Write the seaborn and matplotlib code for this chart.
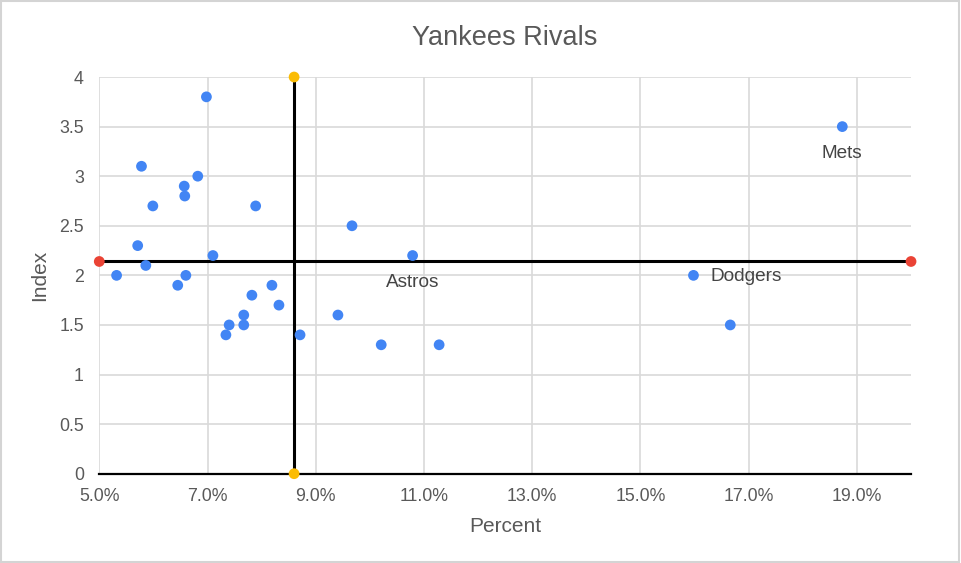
import matplotlib
matplotlib.use('Agg')
import matplotlib.pyplot as plt
import matplotlib.ticker as mticker
import seaborn as sns
import pandas as pd

# 데이터
teams = ['', '', '', '', '', '', '', '', '', '', '', '', '', '', '', '', '', '', '', '', '',
         '', 'Astros', '', '', '', 'Mets', 'Dodgers', '']
percent = [6.98, 5.78, 6.82, 6.57, 6.58, 5.99, 7.89, 5.71, 7.10, 5.86, 5.32, 6.60, 6.45, 8.19,
           7.82, 8.32, 7.67, 7.40, 7.67, 7.34, 8.71, 9.67, 10.79, 9.41, 10.21, 11.28,
           18.73, 15.98, 16.66]
index = [3.8, 3.1, 3.0, 2.9, 2.8, 2.7, 2.7, 2.3, 2.2, 2.1, 2.0, 2.0, 1.9, 1.9, 1.8, 1.7,
         1.6, 1.5, 1.5, 1.4, 1.4, 2.5, 2.2, 1.6, 1.3, 1.3, 3.5, 2.0, 1.5]

# 기준선 (평균선)
h_x = [5.0, 20.0]
h_y = [2.14, 2.14]
v_x = [8.6, 8.6]
v_y = [0, 4]

x_ticks = [5, 7, 9, 11, 13, 15, 17, 19]
y_ticks = [0, 0.5, 1, 1.5, 2, 2.5, 3, 3.5, 4]

df = pd.DataFrame({'team': teams, 'Percent': percent, 'Index': index})

sns.set_style('white')
plt.rcParams['font.family'] = ['Liberation Sans', 'DejaVu Sans']

fig = plt.figure(figsize=(9.61, 5.63), dpi=100)
ax = fig.add_axes([0.1033, 0.1586, 0.8447, 0.7046])

# 격자
for xt in x_ticks:
    ax.axvline(xt, color='#d9d9d9', lw=1.2, zorder=0)
for yt in y_ticks[1:]:
    ax.axhline(yt, color='#d9d9d9', lw=1.2, zorder=0)

sns.scatterplot(x='Percent', y='Index', data=df, color='#4285F4', s=60,
                edgecolor='none', ax=ax, zorder=3, legend=False)

# 기준선 그리기
ax.plot(h_x, h_y, color='black', lw=2.2, zorder=2, solid_capstyle='butt')
ax.plot(v_x, v_y, color='black', lw=2.2, zorder=2, solid_capstyle='butt')
sns.scatterplot(x=h_x, y=h_y, color='#EA4335', s=60, edgecolor='none', ax=ax, zorder=4,
                clip_on=False)
sns.scatterplot(x=v_x, y=v_y, color='#FBBC04', s=60, edgecolor='none', ax=ax, zorder=4,
                clip_on=False)

# 라벨
for _, row in df[df['team'] != ''].iterrows():
    if row['team'] == 'Dodgers':
        ax.annotate(row['team'], (row['Percent'], row['Index']), xytext=(12, -1),
                    textcoords='offset points', ha='left', va='center',
                    fontsize=13.7, color='#444444')
    else:
        ax.annotate(row['team'], (row['Percent'], row['Index']), xytext=(0, -19.5),
                    textcoords='offset points', ha='center', va='center',
                    fontsize=13.7, color='#444444')

ax.set_xlim(5, 20)
ax.set_ylim(0, 4)
ax.set_xticks(x_ticks)
ax.set_yticks(y_ticks)
ax.set_yticklabels(['0', '0.5', '1', '1.5', '2', '2.5', '3', '3.5', '4'])
ax.xaxis.set_major_formatter(mticker.PercentFormatter(xmax=100, decimals=1))
ax.tick_params(axis='both', length=0, labelsize=12.8, labelcolor='#595959')
ax.tick_params(axis='x', pad=10)
ax.tick_params(axis='y', pad=11)

for side in ['top', 'right', 'left']:
    ax.spines[side].set_visible(False)
ax.spines['bottom'].set_color('black')
ax.spines['bottom'].set_linewidth(1.6)
ax.spines['bottom'].set_zorder(2)

ax.set_xlabel('Percent', fontsize=15, color='#595959', labelpad=9)
ax.set_ylabel('Index', fontsize=15, color='#595959', labelpad=7)
ax.set_title('Yankees Rivals', fontsize=19.5, color='#595959', pad=23)

# 테두리
fig.patches.append(plt.Rectangle((0.001, 0.002), 0.997, 0.996, transform=fig.transFigure,
                                 fill=False, edgecolor='#d4d4d4', lw=1.5))

fig.savefig('out.png', dpi=100)
